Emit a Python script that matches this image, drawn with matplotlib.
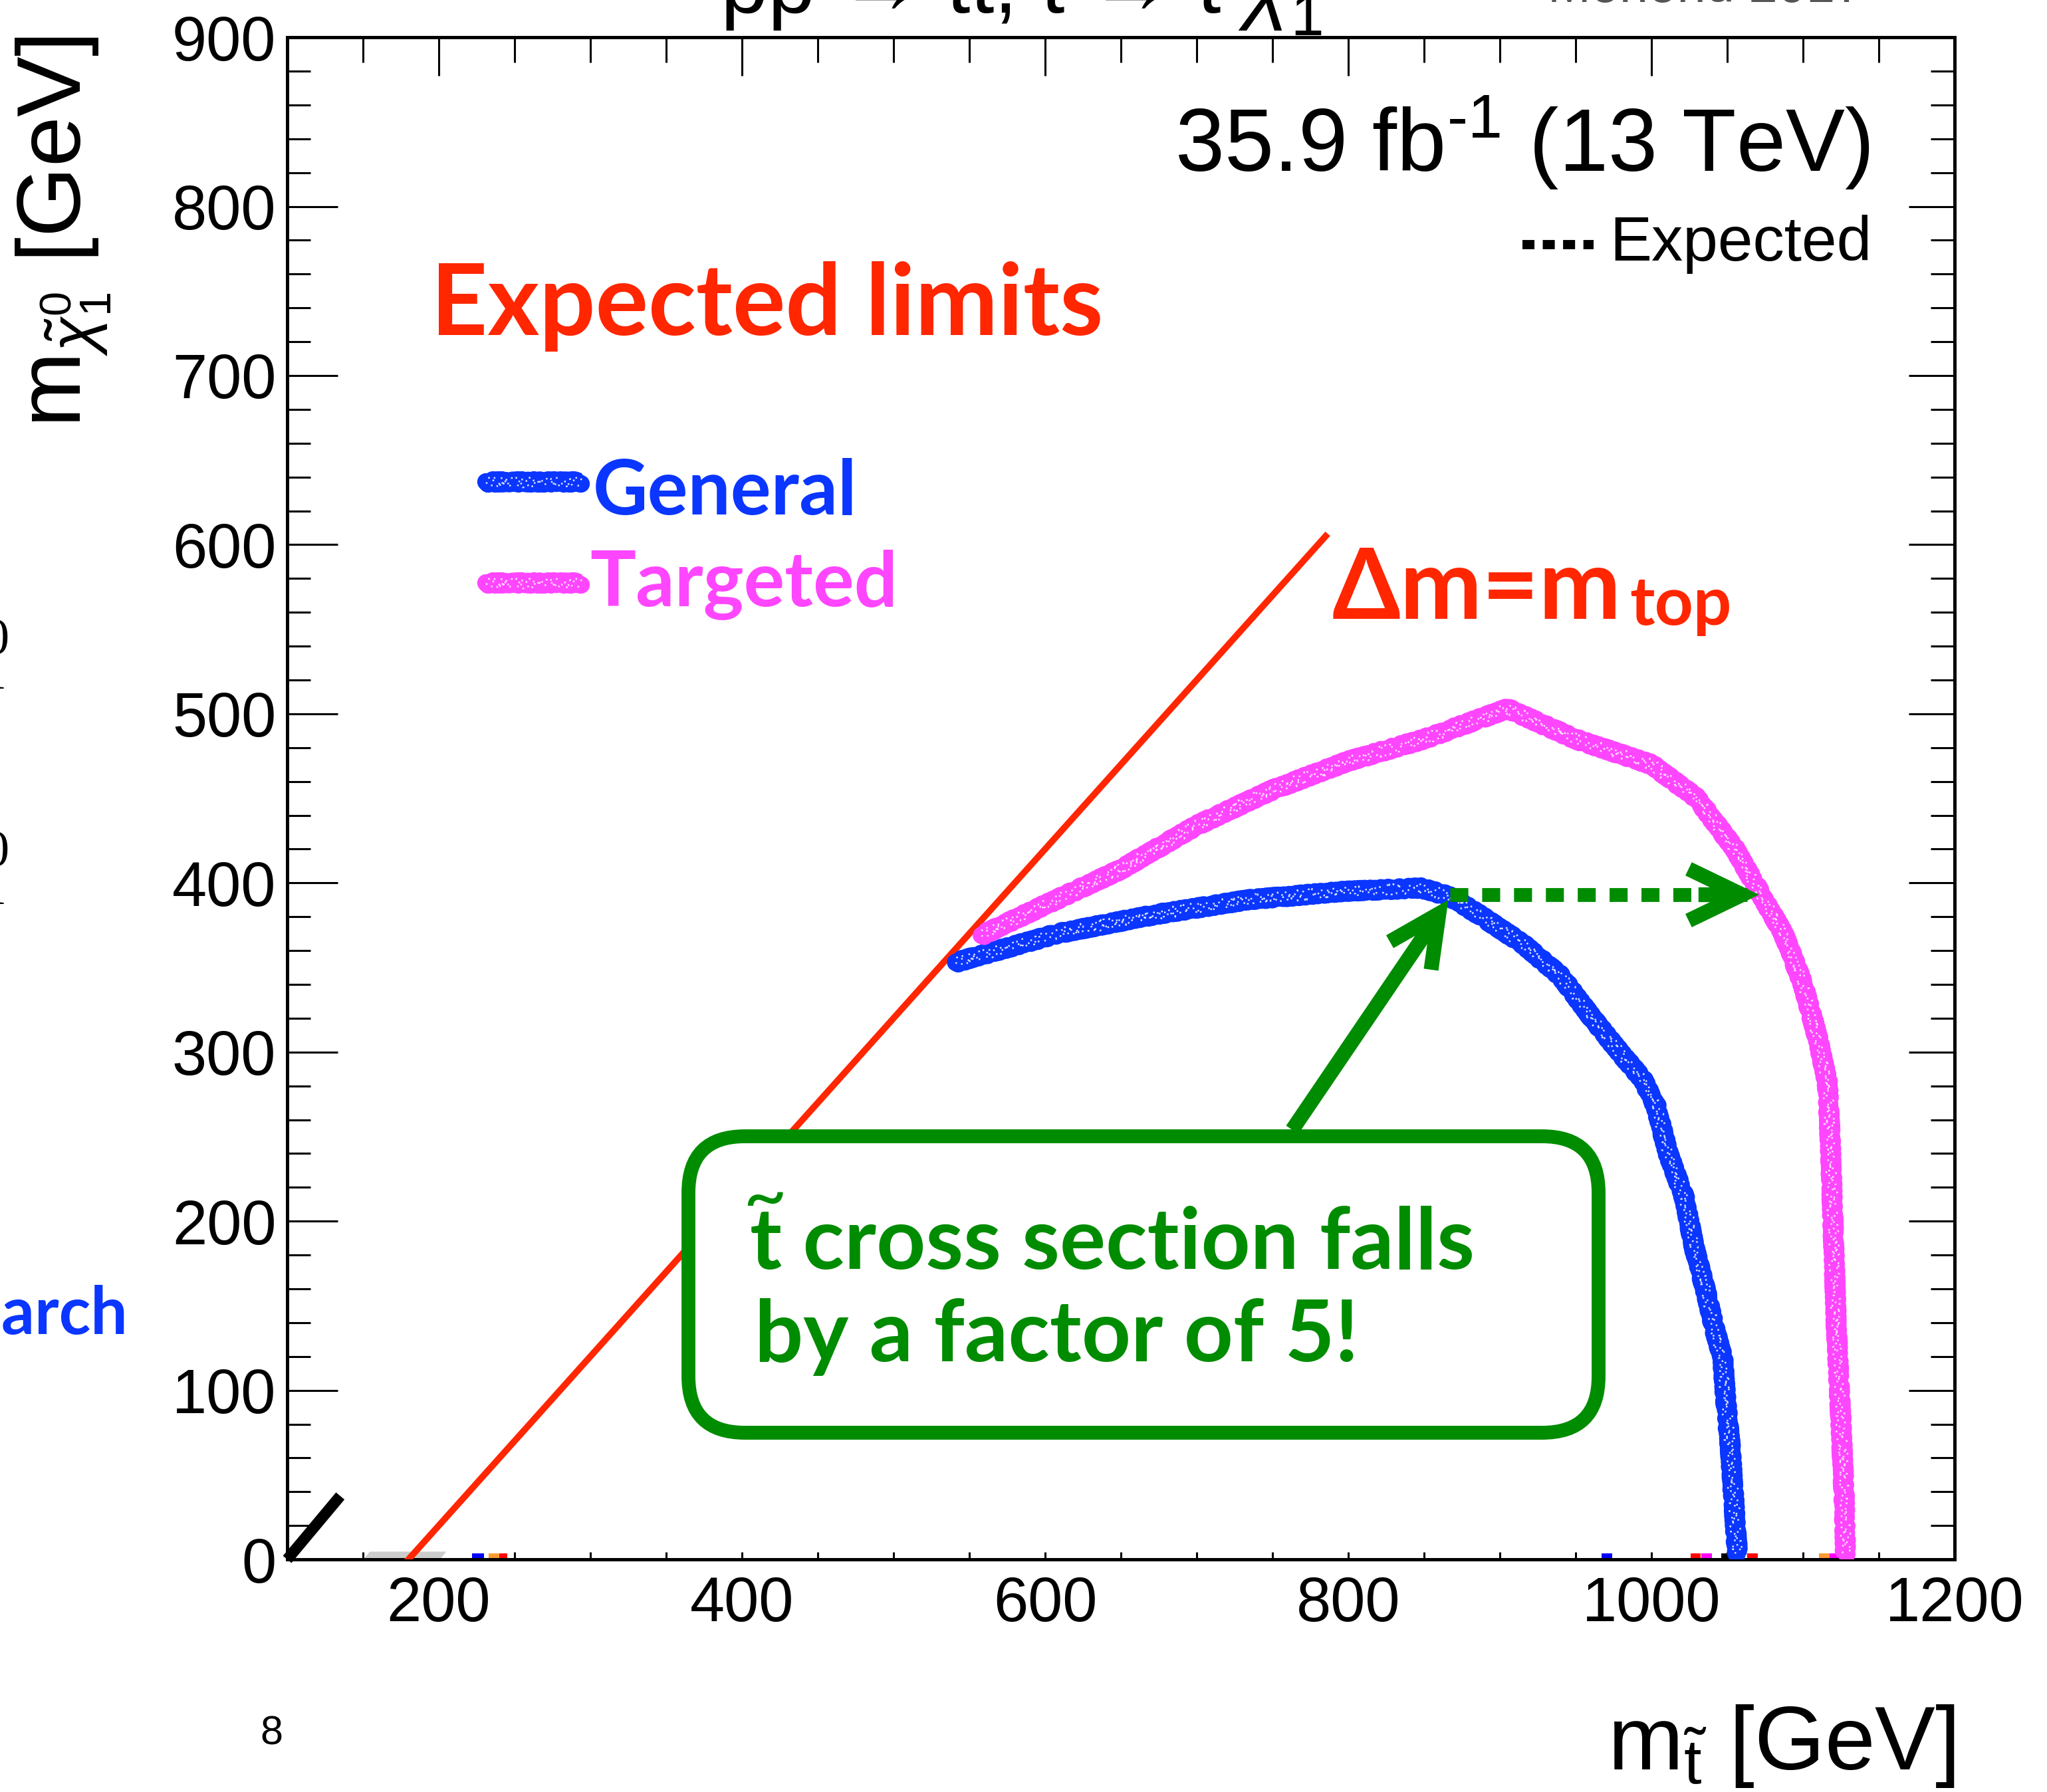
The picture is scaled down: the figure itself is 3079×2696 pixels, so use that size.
import matplotlib
matplotlib.use("Agg")
import matplotlib.pyplot as plt
from matplotlib.ticker import MultipleLocator, NullFormatter
from matplotlib.patches import FancyBboxPatch, FancyArrowPatch, ArrowStyle, Polygon
from matplotlib.lines import Line2D

plt.rcParams["font.family"] = ["Liberation Sans", "DejaVu Sans"]
plt.rcParams["mathtext.fontset"] = "custom"
plt.rcParams["mathtext.rm"] = "Liberation Sans"
plt.rcParams["mathtext.it"] = "Liberation Sans:italic"
plt.rcParams["mathtext.bf"] = "Liberation Sans:bold"

# ---------------- data ----------------
# expected exclusion contours: stop mass vs. neutralino mass [GeV]
general_mstop = [541, 608, 671, 734, 797, 848, 867, 885, 915, 940, 961, 978, 994,
                 1003, 1011, 1022, 1028, 1036, 1042, 1047, 1049, 1052, 1054, 1056, 1057]
general_mlsp = [353, 370, 381, 390, 395, 397, 392, 382, 364, 345, 320, 301, 284,
                268, 240, 213, 185, 158, 135, 119, 94, 66, 39, 11, 3]

targeted_mstop = [558, 600, 650, 700, 750, 800, 850, 905, 950, 1000, 1030, 1055, 1071,
                  1087, 1100, 1110, 1116, 1118, 1120, 1122, 1125, 1127, 1128]
targeted_mlsp = [369, 387, 408, 434, 455, 472, 485, 503, 485, 470, 450, 420, 395,
                 370, 340, 307, 282, 246, 191, 136, 80, 39, 3]

# kinematic boundary  m_stop - m_LSP = m_top
diag_mstop = [180, 785]
diag_mlsp = [0, 605]

# gain of the targeted search over the general one
gain_from = (867, 393)
gain_to = (1071, 393)
callout_tail = (763, 254)
callout_tip = (866, 390)

# small coloured legend stubs sitting on the m_LSP = 0 axis
stub_left = [222, 233, 240, 967, 1026, 1033, 1046, 1063, 1110.5, 1117.5]
stub_width = [8, 7, 5, 7, 6.5, 7, 6.6, 7, 7, 5.5]
stub_color = ["#0000ff", "#ff9933", "#ff0000", "#0000ff", "#ff0000", "#ff00ff",
              "#000000", "#ff0000", "#ff9933", "#ff00ff"]

x_ticks_major = 200
x_ticks_minor = 50
y_ticks_major = 100
y_ticks_minor = 20

BLUE = "#0a36ff"
MAGENTA = "#ff46ff"
RED = "#ff2600"
GREEN = "#008c00"
MYRIAD = ["Lato", "DejaVu Sans"]

fig = plt.figure(figsize=(30.79, 26.96), dpi=100)
ax = fig.add_axes([0.1403, 0.1298, 0.9549 - 0.1403, 0.9792 - 0.1298])
ax.set_xlim(100, 1200)
ax.set_ylim(0, 900)


def marker_stroke(x, y, color, transform, zorder=5):
    """Thick hand-drawn looking band."""
    arts = []
    core = Line2D(x, y, color=color, lw=19, solid_capstyle="round",
                  solid_joinstyle="round", transform=transform, zorder=zorder)
    core.set_sketch_params(scale=3, length=14, randomness=6)
    arts.append(core)
    for lw, sc, ln in [(6, 9, 6), (4, 11, 5)]:
        l = Line2D(x, y, color=color, lw=lw, transform=transform, zorder=zorder,
                   solid_capstyle="round")
        l.set_sketch_params(scale=sc, length=ln, randomness=4)
        arts.append(l)
    speck = Line2D(x, y, color="white", lw=1.8, ls=(0, (1, 6)), transform=transform,
                   zorder=zorder + 0.1, alpha=0.85)
    speck.set_sketch_params(scale=8, length=5, randomness=4)
    arts.append(speck)
    return arts


# axis stubs and corner fragments
ax.bar(stub_left, 3.2, width=stub_width, bottom=0.4, align="edge",
       color=stub_color, zorder=2)
ax.add_patch(Polygon([(151, 0.8), (154.5, 4.6), (205, 4.6), (201.5, 0.8)],
                     closed=True, color="#cccccc", lw=0, zorder=2))
ax.plot([100, 135], [0, 37.5], color="black", lw=12, solid_capstyle="butt",
        zorder=3, clip_on=False)

# diagonal
ax.plot(diag_mstop, diag_mlsp, color=RED, lw=7, zorder=3)

# contours
for a in marker_stroke(general_mstop, general_mlsp, BLUE, ax.transData):
    ax.add_line(a)
for a in marker_stroke(targeted_mstop, targeted_mlsp, MAGENTA, ax.transData):
    ax.add_line(a)

# dotted improvement arrow
ax.plot([gain_from[0], gain_to[0] - 8], [gain_from[1], gain_to[1]], color=GREEN,
        lw=15, ls=(0, (1.3, 1.0)), dash_capstyle="butt", zorder=6)
ax.add_patch(FancyArrowPatch((gain_to[0] - 40, gain_to[1]), gain_to,
                             arrowstyle=ArrowStyle("->", head_length=58, head_width=28),
                             mutation_scale=1, color=GREEN, lw=16, shrinkA=0, shrinkB=0,
                             joinstyle="miter", capstyle="butt", zorder=6))
ax.add_patch(FancyArrowPatch(callout_tail, callout_tip,
                             arrowstyle=ArrowStyle("->", head_length=55, head_width=27),
                             mutation_scale=1, color=GREEN, lw=16, shrinkA=0, shrinkB=0,
                             joinstyle="miter", capstyle="butt", zorder=6))

# call-out box (inch coordinates keep the corners round)
box = FancyBboxPatch((10.355, 5.405), 24.045 - 10.355, 9.865 - 5.405,
                     boxstyle="round,pad=0,rounding_size=0.85",
                     transform=fig.dpi_scale_trans, ec=GREEN, fc="white", lw=15,
                     zorder=7)
ax.add_patch(box)

# ---------------- axes styling ----------------
for s in ax.spines.values():
    s.set_linewidth(3.6)
ax.xaxis.set_major_locator(MultipleLocator(x_ticks_major))
ax.xaxis.set_minor_locator(MultipleLocator(x_ticks_minor))
ax.yaxis.set_major_locator(MultipleLocator(y_ticks_major))
ax.yaxis.set_minor_locator(MultipleLocator(y_ticks_minor))
ax.tick_params(axis="both", which="both", direction="in", width=2.2,
               labelsize=67.5, top=False, right=False)
ax.tick_params(axis="x", which="both", length=8, pad=17)
ax.tick_params(axis="y", which="major", length=55, pad=12)
ax.tick_params(axis="y", which="minor", length=25)

secx = ax.secondary_xaxis("top")
secx.xaxis.set_major_locator(MultipleLocator(x_ticks_major))
secx.xaxis.set_minor_locator(MultipleLocator(x_ticks_minor))
secx.xaxis.set_major_formatter(NullFormatter())
secx.tick_params(axis="x", which="major", direction="in", length=42, width=2.2)
secx.tick_params(axis="x", which="minor", direction="in", length=27, width=2.2)
secx.spines["top"].set_linewidth(3.6)

secy = ax.secondary_yaxis("right")
secy.yaxis.set_major_locator(MultipleLocator(y_ticks_major))
secy.yaxis.set_minor_locator(MultipleLocator(y_ticks_minor))
secy.yaxis.set_major_formatter(NullFormatter())
secy.tick_params(axis="y", which="major", direction="in", length=50, width=2.2)
secy.tick_params(axis="y", which="minor", direction="in", length=26, width=2.2)
secy.spines["right"].set_linewidth(3.6)

# axis titles
fig.text(0.0309, 1 - 54 / 2696, r"$\mathrm{m}_{\tilde{\chi}^{0}_{1}}$ [GeV]",
         rotation=90, ha="center", va="top", size=98)
fig.text(0.9552, 0.0126, r"$\mathrm{m}_{\tilde{\mathrm{t}}}$ [GeV]",
         ha="right", va="baseline", size=98)
fig.text(0.1325, 0.0267, "8", ha="center", va="baseline", size=44)

# header pieces
fig.text(0.499, 1 - 20 / 2696,
         r"pp → $\tilde{\mathrm{t}}\bar{\tilde{\mathrm{t}}}$, "
         r"$\tilde{\mathrm{t}}$ → t $\tilde{\chi}^{0}_{1}$",
         ha="center", va="baseline", size=92)
fig.text(0.756, 1 - 3 / 2696, "Moriond 2017", ha="left", va="baseline",
         size=56, color="#555555")
fig.text(0.9135, 0.9043, r"35.9 fb$^{\text{-1}}$ (13 TeV)", ha="right", va="baseline",
         size=96)
fig.text(0.7863, 0.8546, "Expected", ha="left", va="baseline", size=68)
fig.add_artist(Line2D([0.7437, 0.7785], [0.8635, 0.8635], color="black", lw=10,
                      ls=(0, (1.3, 0.9)), dash_capstyle="butt",
                      transform=fig.transFigure))

# fragments from the neighbouring panel
for xf, yf, s in [(0.0042, 0.6354, "0"), (0.0032, 0.6157, "1"),
                  (0.0042, 0.5171, "0"), (0.0032, 0.4955, "1")]:
    fig.text(xf, yf, s, ha="right", va="baseline", size=55, family="Liberation Serif")
fig.text(0.0624, 0.2556, "search", ha="right", va="baseline", size=71,
         family=MYRIAD, weight="bold", color=BLUE)

# labels inside the frame
fig.text(0.2105, 0.8131, "Expected limits", ha="left", va="baseline", size=107,
         family=MYRIAD, weight="bold", color=RED)
fig.text(0.2897, 0.7129, "General", ha="left", va="baseline", size=82,
         family=MYRIAD, weight="bold", color=BLUE)
fig.text(0.2881, 0.6617, "Targeted", ha="left", va="baseline", size=83,
         family=MYRIAD, weight="bold", color=MAGENTA)
for a in marker_stroke([0.2374, 0.2839], [0.7311, 0.7311], BLUE, fig.transFigure, 9):
    fig.add_artist(a)
for a in marker_stroke([0.2374, 0.2839], [0.6747, 0.6747], MAGENTA, fig.transFigure, 9):
    fig.add_artist(a)

dm = fig.text(0.6509, 0.6547, "Δm=m", ha="left", va="baseline", size=106,
              family=MYRIAD, weight="bold", color=RED)
ax.annotate("top", xy=(1, 0.6513), xycoords=(dm, "figure fraction"),
            xytext=(9, 0), textcoords="offset points", ha="left", va="baseline",
            size=73, family=MYRIAD, weight="bold", color=RED)

fig.text(0.3664, 0.2919, "t cross section falls", ha="left", va="baseline", size=93,
         family=MYRIAD, weight="bold", color=GREEN, zorder=10)
fig.text(0.3736, 0.3301, "~", ha="center", va="center", size=82,
         family=MYRIAD, color=GREEN, zorder=10)
fig.text(0.3686, 0.2404, "by a factor of 5!", ha="left", va="baseline", size=93,
         family=MYRIAD, weight="bold", color=GREEN, zorder=10)

fig.savefig("out.png", dpi=100)
